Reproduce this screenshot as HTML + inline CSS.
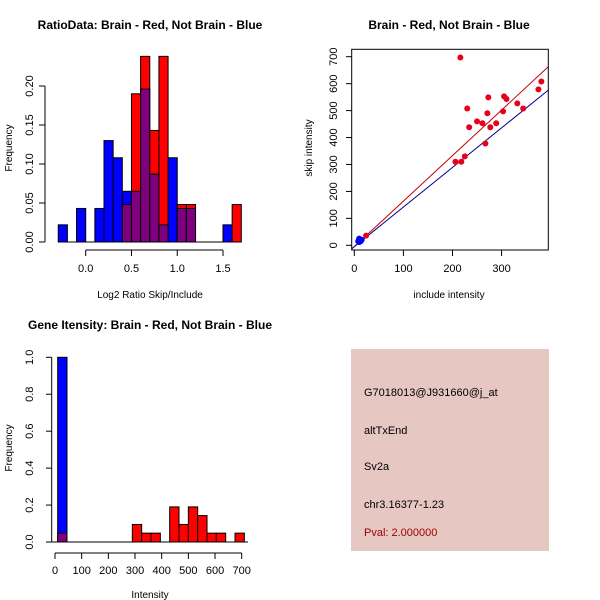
<!DOCTYPE html>
<html><head><meta charset="utf-8"><style>
body{margin:0;background:#fff}
svg{display:block;font-family:"Liberation Sans",Arial,sans-serif}
</style></head><body>
<svg id="c" width="600" height="600" viewBox="0 0 600 600"></svg>
<script>
// Panel 1: ratio histogram (bins of 0.1 starting at -0.3)
const ratioBinStarts = [-0.3,-0.2,-0.1,0.0,0.1,0.2,0.3,0.4,0.5,0.6,0.7,0.8,0.9,1.0,1.1,1.2,1.3,1.4,1.5,1.6];
const ratioBlue = [0.022,0,0.043,0,0.043,0.13,0.108,0.065,0.065,0.196,0.087,0.022,0.108,0.043,0.043,0,0,0,0.022,0];
const ratioRed  = [0,0,0,0,0,0,0,0.048,0.19,0.238,0.143,0.238,0,0.048,0.048,0,0,0,0,0.048];
const ratioXTicks = [0.0,0.5,1.0,1.5];
const ratioYTicks = [0.00,0.05,0.10,0.15,0.20];
// Panel 2: scatter
const brainInclude = [216,24,206,218,225,230,234,250,261,267,271,273,277,289,303,305,310,332,344,375,381];
const brainSkip    = [697,36,310,310,330,508,438,460,453,378,490,549,438,453,497,553,543,527,508,579,608];
const otherInclude = [10,12,15,8,13,10];
const otherSkip    = [25,18,20,15,15,12];
const redFit = [-5,1.69];
const blueFit = [-5,1.47];
const scatXTicks = [0,100,200,300];
const scatYTicks = [0,100,200,300,400,500,600,700];
// Panel 3: intensity histogram (bins of 35 starting at 10)
const intBinStarts = [10,45,80,115,150,185,220,255,290,325,360,395,430,465,500,535,570,605,640,675];
const intBlue = [1.0,0,0,0,0,0,0,0,0,0,0,0,0,0,0,0,0,0,0,0];
const intRed  = [0.048,0,0,0,0,0,0,0,0.095,0.048,0.048,0,0.19,0.095,0.19,0.143,0.048,0.048,0,0.048];
const intXTicks = [0,100,200,300,400,500,600,700];
const intYTicks = [0.0,0.2,0.4,0.6,0.8,1.0];
const infoLines = ["G7018013@J931660@j_at","altTxEnd","Sv2a","chr3.16377-1.23"];
const pvalText = "Pval: 2.000000";

const svg=document.getElementById('c');
const NS='http://www.w3.org/2000/svg';
function mk(tag,attrs,parent,text){const e=document.createElementNS(NS,tag);for(const k in attrs)e.setAttribute(k,attrs[k]);if(text!==undefined)e.textContent=text;(parent||svg).appendChild(e);return e;}
function txt(x,y,s,o){o=o||{};const a={x:x,y:y,'font-size':o.fs||11,'text-anchor':o.anchor||'middle',fill:o.fill||'#000'};if(o.bold)a['font-weight']='bold';if(o.rot)a.transform='rotate(-90 '+x+' '+y+')';return mk('text',a,null,s);}

// ---------- Panel 1 ----------
{
const sx=v=>85.7+(v-0)*(223-85.7)/1.5, sy=v=>242-v*(156/0.2);
const g=mk('g',{});


ratioBinStarts.forEach((b,i)=>{
  const bl=ratioBlue[i], rd=ratioRed[i]; if(!bl&&!rd)return;
  const x0=sx(b),x1=sx(b+0.1),hi=Math.max(bl,rd),lo=Math.min(bl,rd);
  const col=bl>rd?'#0000ff':'#ff0000';
  const r=mk('rect',{x:x0,y:sy(hi),width:x1-x0,height:sy(0)-sy(hi),fill:col,stroke:'#000','stroke-width':1},g);
  
  
  if(lo>0){const p=mk('rect',{x:x0,y:sy(lo),width:x1-x0,height:sy(0)-sy(lo),fill:'#7f007f',stroke:'#000','stroke-width':1},g);
  
  }
});
mk('line',{x1:sx(-0.3),x2:sx(1.7),y1:sy(0),y2:sy(0),stroke:'#000'});
mk('line',{x1:45,x2:45,y1:sy(0),y2:sy(0.2),stroke:'#000'});
ratioYTicks.forEach(t=>{mk('line',{x1:39,x2:45,y1:sy(t),y2:sy(t),stroke:'#000'});txt(33,sy(t),t.toFixed(2),{rot:1});});
mk('line',{x1:sx(0),x2:sx(1.5),y1:250,y2:250,stroke:'#000'});
ratioXTicks.forEach(t=>{mk('line',{x1:sx(t),x2:sx(t),y1:250,y2:256,stroke:'#000'});txt(sx(t),272,t.toFixed(1));});
txt(150,29,'RatioData: Brain - Red, Not Brain - Blue',{fs:12,bold:1});
txt(150,298,'Log2 Ratio Skip/Include',{fs:10});
txt(12,148,'Frequency',{fs:10,rot:1});
}
// ---------- Panel 2 ----------
{
const sx=v=>354.3+v*0.491, sy=v=>245.3-v*0.2694;
mk('defs',{}).innerHTML='<clipPath id="cp"><rect x="351.7" y="49.3" width="196.6" height="200.7"/></clipPath>';
const g=mk('g',{'clip-path':'url(#cp)'});


[[redFit,'#c00000','red-fit-line'],[blueFit,'#00008b','blue-fit-line']].forEach(([f,c,n])=>{
  const l=mk('line',{x1:sx(-20),y1:sy(f[0]+f[1]*-20),x2:sx(420),y2:sy(f[0]+f[1]*420),stroke:c,'stroke-width':1},g);
  
  
});
brainInclude.forEach((v,i)=>{const c=mk('circle',{cx:sx(v),cy:sy(brainSkip[i]),r:3,fill:'#e8001a'},g);

});
otherInclude.forEach((v,i)=>{const c=mk('circle',{cx:sx(v),cy:sy(otherSkip[i]),r:3,fill:'#0000ff'},g);

});
mk('rect',{x:351.7,y:49.3,width:196.6,height:200.7,fill:'none',stroke:'#000'});
scatYTicks.forEach(t=>{mk('line',{x1:346,x2:351.7,y1:sy(t),y2:sy(t),stroke:'#000'});txt(337,sy(t),String(t),{rot:1});});
scatXTicks.forEach(t=>{mk('line',{x1:sx(t),x2:sx(t),y1:250,y2:256,stroke:'#000'});txt(sx(t),272,String(t));});
txt(449,29,'Brain - Red, Not Brain - Blue',{fs:12,bold:1});
txt(449,298,'include intensity',{fs:10});
txt(312,148,'skip intensity',{fs:10,rot:1});
}
// ---------- Panel 3 ----------
{
const sx=v=>55+v*0.2667, sy=v=>542-v*184.7;
const g=mk('g',{});


intBinStarts.forEach((b,i)=>{
  const bl=intBlue[i], rd=intRed[i]; if(!bl&&!rd)return;
  const x0=sx(b),x1=sx(b+35),hi=Math.max(bl,rd),lo=Math.min(bl,rd);
  const col=bl>rd?'#0000ff':'#ff0000';
  const r=mk('rect',{x:x0,y:sy(hi),width:x1-x0,height:sy(0)-sy(hi),fill:col,stroke:'#000','stroke-width':1},g);
  
  
  if(lo>0){const p=mk('rect',{x:x0,y:sy(lo),width:x1-x0,height:sy(0)-sy(lo),fill:'#7f007f',stroke:'#000','stroke-width':1},g);
  
  }
});
mk('line',{x1:51.7,x2:248,y1:sy(0),y2:sy(0),stroke:'#000'});
mk('line',{x1:51.7,x2:51.7,y1:sy(0),y2:sy(1),stroke:'#000'});
intYTicks.forEach(t=>{mk('line',{x1:46,x2:51.7,y1:sy(t),y2:sy(t),stroke:'#000'});txt(33,sy(t),t.toFixed(1),{rot:1});});
mk('line',{x1:sx(0),x2:sx(700),y1:553,y2:553,stroke:'#000'});
intXTicks.forEach(t=>{mk('line',{x1:sx(t),x2:sx(t),y1:553,y2:559,stroke:'#000'});txt(sx(t),574,String(t));});
txt(150,329,'Gene Itensity: Brain - Red, Not Brain - Blue',{fs:12,bold:1});
txt(150,598,'Intensity',{fs:10});
txt(12,448,'Frequency',{fs:10,rot:1});
}
// ---------- Panel 4 ----------
{
const b=mk('rect',{x:351,y:349,width:198,height:202,fill:'#e6c7c1'});


const ys=[396,434,470,508];
infoLines.forEach((s,i)=>{const t=txt(364,ys[i],s,{anchor:'start'});

});
const p=txt(364,536,pvalText,{anchor:'start',fill:'#9b0000'});


}
</script>
</body></html>
